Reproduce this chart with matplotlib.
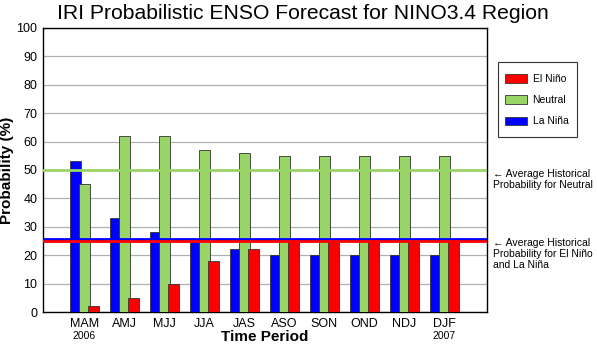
import numpy as np
import matplotlib.pyplot as plt
from matplotlib.patches import Patch, Rectangle

plt.rcParams['font.family'] = ['Liberation Sans', 'DejaVu Sans']

# ENSO forecast probabilities (%) per 3-month season
seasons = ['MAM', 'AMJ', 'MJJ', 'JJA', 'JAS', 'ASO', 'SON', 'OND', 'NDJ', 'DJF']
la_nina = [53, 33, 28, 25, 22, 20, 20, 20, 20, 20]
neutral = [45, 62, 62, 57, 56, 55, 55, 55, 55, 55]
el_nino = [2, 5, 10, 18, 22, 25, 25, 25, 25, 25]

# climatological reference levels
avg_neutral = 50
avg_nino_nina = 25

RED = '#ff0000'
GREEN = '#99d566'
BLUE = '#0000ff'

fig = plt.figure(figsize=(5.97, 3.44), dpi=100)
ax = fig.add_axes([0.072, 0.093, 0.744, 0.826])

x = np.arange(len(seasons))
w = 0.28
off = 0.225
ax.bar(x - off, la_nina, w, color=BLUE, edgecolor='#333333', linewidth=0.6, zorder=3)
ax.bar(x, neutral, w, color=GREEN, edgecolor='#333333', linewidth=0.6, zorder=4)
ax.bar(x + off, el_nino, w, color=RED, edgecolor='#333333', linewidth=0.6, zorder=5)

ax.axhline(avg_neutral, color='#99d566', lw=2, zorder=6)
ax.axhline(avg_nino_nina + 0.6, color=BLUE, lw=2, zorder=6)
ax.axhline(avg_nino_nina - 0.1, color=RED, lw=2, zorder=7)

ax.set_xlim(-1.03, 10.07)
ax.set_ylim(0, 100)
ax.set_yticks(range(0, 101, 10))
ax.set_xticks(x)
ax.set_xticklabels(seasons, fontsize=9)
ax.tick_params(axis='y', labelsize=9, length=0, pad=4)
ax.tick_params(axis='x', length=0, pad=4)
ax.yaxis.grid(True, color='#b0b0b0', lw=0.9, zorder=0)
ax.set_axisbelow(True)
for s in ax.spines.values():
    s.set_linewidth(1.0)

# years under first and last season
for i, yr in [(0, '2006'), (9, '2007')]:
    ax.annotate(yr, xy=(i, 0), xytext=(0, -13.5), textcoords='offset points',
                ha='center', va='top', fontsize=7.5, annotation_clip=False)

ax.set_xlabel('Time Period', fontsize=11, fontweight='bold', labelpad=0.5)
ax.set_ylabel('Probability (%)', fontsize=11, fontweight='bold', labelpad=2)
fig.text(0.507, 0.962, 'IRI Probabilistic ENSO Forecast for NINO3.4 Region',
         ha='center', va='center', fontsize=15.2)

# legend outside the plot, with its own frame
handles = [Patch(facecolor=RED, edgecolor='#333333', lw=0.6, label='El Niño'),
           Patch(facecolor=GREEN, edgecolor='#333333', lw=0.6, label='Neutral'),
           Patch(facecolor=BLUE, edgecolor='#333333', lw=0.6, label='La Niña')]
fig.add_artist(Rectangle((498 / 597, 1 - 137 / 344), 79 / 597, 75 / 344,
                         transform=fig.transFigure, facecolor='white',
                         edgecolor='#333333', lw=0.8))
fig.legend(handles=handles, loc='upper left', bbox_to_anchor=(505 / 597, 1 - 74 / 344),
           fontsize=7.5, frameon=False, handlelength=2.1, handleheight=0.9,
           labelspacing=1.08, borderpad=0, handletextpad=0.55, borderaxespad=0)

ax.text(1.013, avg_neutral + 0.5, '← Average Historical\nProbability for Neutral',
        transform=ax.get_yaxis_transform(), ha='left', va='top', fontsize=7.5,
        linespacing=1.15, clip_on=False)
ax.text(1.013, avg_nino_nina + 1.2, '← Average Historical\nProbability for El Niño\nand La Niña',
        transform=ax.get_yaxis_transform(), ha='left', va='top', fontsize=7.5,
        linespacing=1.15, clip_on=False)

fig.savefig('out.png', dpi=100)
